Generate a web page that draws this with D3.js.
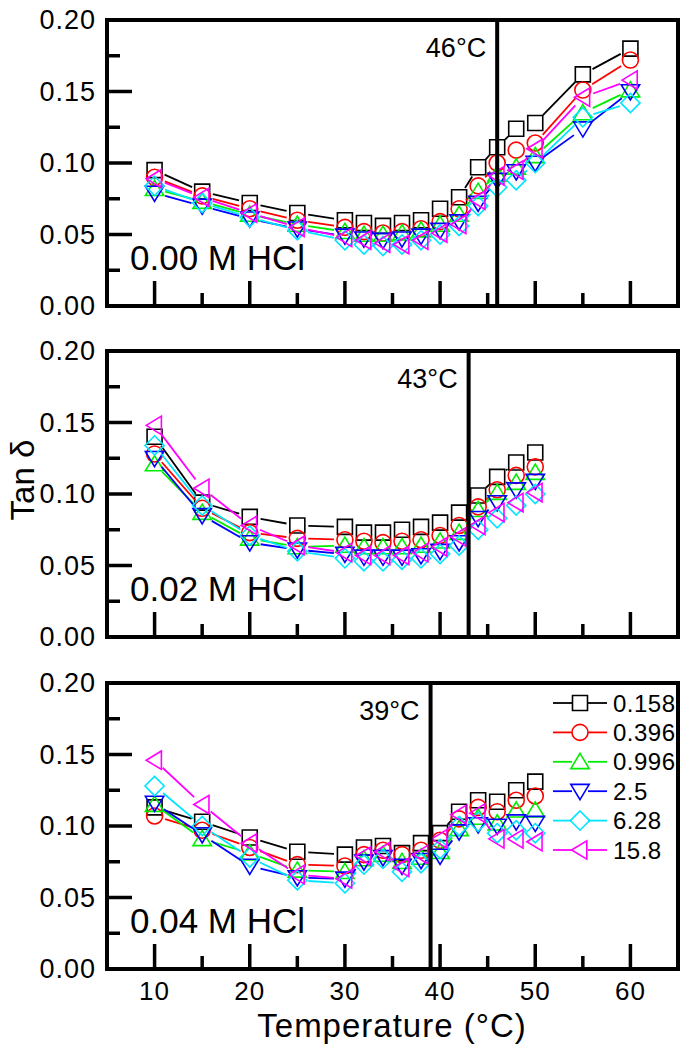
<!DOCTYPE html>
<html><head><meta charset="utf-8">
<script src="https://cdn.jsdelivr.net/npm/d3@7"></script>
<style>body{margin:0;background:#fff}svg{display:block}text{font-family:"Liberation Sans",Arial,sans-serif;fill:#000}</style>
</head><body>
<script>
// ---- data ----
const seriesNames = ["0.158","0.396","0.996","2.5","6.28","15.8"];
const seriesColors = ["#000000","#ff0000","#00ee00","#0000ff","#00e5ff","#ff00ff"];
const seriesSymbols = ["square","circle","up","down","diamond","left"];
const temps1 = [10,15,20,25,30,32,34,36,38,40,42,44,46,48,50,55,60];
const temps23 = [10,15,20,25,30,32,34,36,38,40,42,44,46,48,50];
const p1_0158 = [0.095,0.080,0.072,0.065,0.060,0.058,0.056,0.058,0.060,0.068,0.076,0.097,0.111,0.124,0.128,0.162,0.180];
const p1_0396 = [0.090,0.077,0.068,0.060,0.055,0.052,0.051,0.052,0.054,0.059,0.068,0.084,0.100,0.109,0.114,0.151,0.172];
const p1_0996 = [0.082,0.073,0.064,0.057,0.052,0.050,0.050,0.051,0.053,0.057,0.064,0.080,0.092,0.097,0.105,0.135,0.151];
const p1_25   = [0.079,0.070,0.061,0.054,0.049,0.047,0.046,0.047,0.049,0.053,0.059,0.072,0.088,0.094,0.100,0.124,0.150];
const p1_628  = [0.084,0.072,0.062,0.053,0.046,0.043,0.042,0.043,0.046,0.050,0.056,0.070,0.083,0.088,0.100,0.132,0.142];
const p1_158  = [0.089,0.076,0.065,0.055,0.048,0.046,0.044,0.043,0.046,0.051,0.057,0.074,0.091,0.095,0.110,0.146,0.158];
const p2_0158 = [0.140,0.094,0.084,0.078,0.077,0.073,0.073,0.075,0.077,0.080,0.087,0.099,0.112,0.122,0.129];
const p2_0396 = [0.128,0.090,0.073,0.069,0.068,0.067,0.066,0.067,0.068,0.071,0.078,0.091,0.103,0.113,0.119];
const p2_0996 = [0.121,0.087,0.069,0.063,0.064,0.063,0.063,0.063,0.064,0.067,0.073,0.089,0.101,0.108,0.115];
const p2_25   = [0.125,0.085,0.066,0.061,0.058,0.056,0.056,0.056,0.057,0.060,0.066,0.083,0.094,0.103,0.109];
const p2_628  = [0.134,0.092,0.071,0.060,0.055,0.053,0.053,0.054,0.055,0.058,0.064,0.075,0.083,0.092,0.100];
const p2_158  = [0.148,0.104,0.078,0.064,0.059,0.057,0.057,0.057,0.059,0.063,0.070,0.078,0.087,0.094,0.101];
const p3_0158 = [0.113,0.103,0.092,0.082,0.080,0.085,0.086,0.081,0.088,0.095,0.110,0.118,0.117,0.125,0.131];
const p3_0396 = [0.107,0.097,0.085,0.073,0.072,0.080,0.083,0.080,0.083,0.090,0.105,0.113,0.110,0.118,0.121];
const p3_0996 = [0.115,0.091,0.081,0.069,0.068,0.077,0.080,0.075,0.078,0.082,0.098,0.106,0.102,0.111,0.111];
const p3_25   = [0.116,0.094,0.072,0.064,0.063,0.075,0.078,0.072,0.076,0.079,0.096,0.101,0.100,0.103,0.102];
const p3_628  = [0.128,0.100,0.078,0.062,0.060,0.073,0.077,0.068,0.074,0.084,0.100,0.103,0.095,0.097,0.095];
const p3_158  = [0.146,0.115,0.088,0.066,0.063,0.079,0.082,0.071,0.080,0.091,0.108,0.109,0.091,0.091,0.089];
const panelLabels = ["0.00 M HCl","0.02 M HCl","0.04 M HCl"];
const transitionTemps = [46,43,39];
const transitionLabels = ["46\u00B0C","43\u00B0C","39\u00B0C"];
const yTicks = [0.00,0.05,0.10,0.15,0.20];
const xTicks = [10,20,30,40,50,60];
const xTitle = "Temperature (\u00B0C)";
const yTitle = "Tan \u03B4";

const panels = [
  {x: temps1, ys:[p1_0158,p1_0396,p1_0996,p1_25,p1_628,p1_158]},
  {x: temps23, ys:[p2_0158,p2_0396,p2_0996,p2_25,p2_628,p2_158]},
  {x: temps23, ys:[p3_0158,p3_0396,p3_0996,p3_25,p3_628,p3_158]}
];

// ---- layout ----
const W=693,H=1050, L=107, R=678, tops=[20,351,683], PH=286;
const svg=d3.select("body").append("svg").attr("width",W).attr("height",H);
const x=d3.scaleLinear().domain([5,65]).range([L,R]);

function symbolPath(type, s){
  const h=s/2;
  switch(type){
    case "square": return `M${-h},${-h}H${h}V${h}H${-h}Z`;
    case "circle": return `M${h},0A${h},${h} 0 1,1 ${-h},0A${h},${h} 0 1,1 ${h},0Z`;
    case "up": return `M0,${-h*1.05}L${h*1.15},${h*0.85}L${-h*1.15},${h*0.85}Z`;
    case "down": return `M0,${h*1.05}L${h*1.15},${-h*0.85}L${-h*1.15},${-h*0.85}Z`;
    case "left": return `M${-h*1.05},0L${h*0.85},${-h*1.15}L${h*0.85},${h*1.15}Z`;
    case "diamond": return `M0,${-h*1.2}L${h*1.2},0L0,${h*1.2}L${-h*1.2},0Z`;
  }
}
const symSize={square:15,circle:16,up:16,down:16,left:16,diamond:16};

panels.forEach((p,pi)=>{
  const top=tops[pi], bot=top+PH;
  const y=d3.scaleLinear().domain([0,0.2]).range([bot,top]);
  const g=svg.append("g");
  const yMinor=d3.range(0.025,0.2,0.05);
  yTicks.forEach(t=>g.append("line").attr("x1",L).attr("x2",L+25).attr("y1",y(t)).attr("y2",y(t)).attr("stroke","#000").attr("stroke-width",3.5));
  yMinor.forEach(t=>g.append("line").attr("x1",L).attr("x2",L+13).attr("y1",y(t)).attr("y2",y(t)).attr("stroke","#000").attr("stroke-width",3.5));
  xTicks.forEach(t=>g.append("line").attr("x1",x(t)).attr("x2",x(t)).attr("y1",bot).attr("y2",bot-25).attr("stroke","#000").attr("stroke-width",3.5));
  [15,25,35,45,55].forEach(t=>g.append("line").attr("x1",x(t)).attr("x2",x(t)).attr("y1",bot).attr("y2",bot-13).attr("stroke","#000").attr("stroke-width",3.5));
  yTicks.forEach(t=>g.append("text").attr("x",96).attr("y",y(t)).attr("text-anchor","end").attr("dominant-baseline","central")
     .attr("font-size",27).attr("letter-spacing",1).text(d3.format(".2f")(t)));
  if(pi===2){
    xTicks.forEach(t=>g.append("text").attr("x",x(t)).attr("y",991).attr("text-anchor","middle").attr("dominant-baseline","central")
      .attr("font-size",26).attr("letter-spacing",1).text(t));
  }
  const line=svg.append("g");
  p.ys.forEach((vals,si)=>{
    const col=seriesColors[si];
    const pts=p.x.map((t,i)=>[x(t),y(vals[i])]);
    const gap=11;
    for(let i=0;i<pts.length-1;i++){
      const [x0,y0]=pts[i],[x1,y1]=pts[i+1];
      const d=Math.hypot(x1-x0,y1-y0);
      if(d<=2*gap+1) continue;
      const ux=(x1-x0)/d, uy=(y1-y0)/d;
      line.append("line").attr("x1",x0+ux*gap).attr("y1",y0+uy*gap).attr("x2",x1-ux*gap).attr("y2",y1-uy*gap)
        .attr("stroke",col).attr("stroke-width",1.8);
    }
    pts.forEach(([px,py])=>line.append("path").attr("d",symbolPath(seriesSymbols[si],symSize[seriesSymbols[si]]))
      .attr("transform",`translate(${px},${py})`).attr("fill","none").attr("stroke",col).attr("stroke-width",1.6));
  });
  svg.append("line").attr("x1",x(transitionTemps[pi])).attr("x2",x(transitionTemps[pi])).attr("y1",top).attr("y2",bot)
    .attr("stroke","#000").attr("stroke-width",4);
  svg.append("text").attr("x",x(transitionTemps[pi])-11).attr("y",top+37).attr("text-anchor","end")
    .attr("font-size",27).text(transitionLabels[pi]);
  svg.append("text").attr("x",130).attr("y",bot-36).attr("font-size",35).text(panelLabels[pi]);
  svg.append("rect").attr("x",L).attr("y",top).attr("width",R-L).attr("height",PH).attr("fill","none").attr("stroke","#000").attr("stroke-width",4);
});

const lg=svg.append("g");
seriesNames.forEach((n,i)=>{
  const cy=703+i*29.4, col=seriesColors[i];
  lg.append("line").attr("x1",553).attr("x2",572).attr("y1",cy).attr("y2",cy).attr("stroke",col).attr("stroke-width",1.8);
  lg.append("line").attr("x1",588).attr("x2",607).attr("y1",cy).attr("y2",cy).attr("stroke",col).attr("stroke-width",1.8);
  lg.append("path").attr("d",symbolPath(seriesSymbols[i],symSize[seriesSymbols[i]])).attr("transform",`translate(580,${cy})`)
    .attr("fill","none").attr("stroke",col).attr("stroke-width",1.6);
  lg.append("text").attr("x",613).attr("y",cy).attr("dominant-baseline","central").attr("font-size",24).attr("letter-spacing",0.5).text(n);
});

svg.append("text").attr("x",392).attr("y",1025).attr("text-anchor","middle").attr("dominant-baseline","central")
  .attr("font-size",33).attr("letter-spacing",1).text(xTitle);
svg.append("text").attr("transform","translate(22,480) rotate(-90)").attr("text-anchor","middle").attr("dominant-baseline","central")
  .attr("font-size",33).text(yTitle);
</script>
</body></html>
